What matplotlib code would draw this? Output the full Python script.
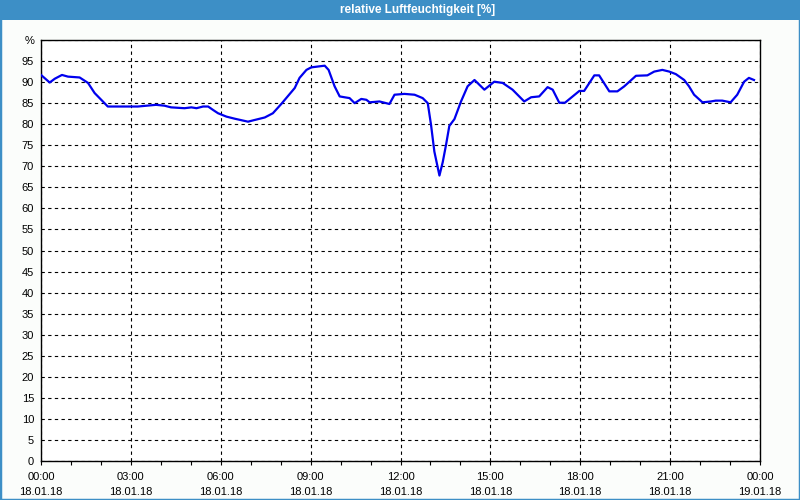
import matplotlib
matplotlib.use("Agg")
import matplotlib.pyplot as plt
from matplotlib.patches import Rectangle

title = "relative Luftfeuchtigkeit [%]"
hours = [0.0, 0.29, 0.46, 0.7, 0.9, 1.29, 1.57, 1.79, 2.01, 2.23, 3.23, 3.84, 4.12, 4.34,
         4.79, 5.02, 5.19, 5.41, 5.58, 5.74, 5.91, 6.19, 6.47, 6.91, 7.13, 7.47, 7.74,
         8.02, 8.47, 8.63, 8.86, 9.02, 9.47, 9.6, 9.8, 9.97, 10.13, 10.3, 10.47, 10.69,
         10.86, 10.97, 11.3, 11.63, 11.8, 12.13, 12.47, 12.74, 12.91, 13.02, 13.13, 13.3,
         13.41, 13.52, 13.63, 13.8, 14.02, 14.24, 14.47, 14.8, 15.13, 15.41, 15.74, 16.13,
         16.36, 16.63, 16.91, 17.08, 17.3, 17.49, 17.97, 18.13, 18.47, 18.63, 18.97, 19.24,
         19.47, 19.86, 20.24, 20.47, 20.74, 20.97, 21.19, 21.47, 21.63, 21.8, 22.08, 22.36,
         22.52, 22.74, 23.02, 23.24, 23.47, 23.63, 23.8]
humidity = [91.7, 89.9, 90.8, 91.7, 91.3, 91.1, 89.8, 87.4, 85.8, 84.2, 84.2, 84.6, 84.4, 84.0,
            83.8, 84.0, 83.8, 84.2, 84.2, 83.4, 82.6, 81.8, 81.3, 80.6, 81.0, 81.6, 82.6,
            84.8, 88.6, 91.0, 92.9, 93.5, 93.9, 92.9, 89.0, 86.6, 86.4, 86.2, 85.0, 86.0,
            85.8, 85.2, 85.4, 84.8, 87.0, 87.2, 87.0, 86.2, 85.0, 79.8, 73.5, 67.8,
            71.0, 75.1, 79.6, 81.2, 85.4, 89.0, 90.5, 88.2, 90.1, 89.8, 88.2, 85.4,
            86.4, 86.6, 88.8, 88.2, 85.1, 85.1, 87.9, 87.9, 91.6, 91.6, 87.8, 87.8,
            89.0, 91.5, 91.6, 92.5, 92.9, 92.5, 91.9, 90.5, 89.0, 87.0, 85.2, 85.4,
            85.6, 85.6, 85.2, 87.0, 90.1, 91.0, 90.5]
time_labels = ["00:00", "03:00", "06:00", "09:00", "12:00", "15:00", "18:00", "21:00", "00:00"]
date_labels = ["18.01.18"] * 8 + ["19.01.18"]
y_values = list(range(0, 101, 5))
y_labels = [str(v) for v in y_values[:-1]] + ["%"]

W, H = 800, 500
fig = plt.figure(figsize=(8, 5), dpi=100, facecolor="#fbfdfb")
plt.rcParams['font.family'] = ['Liberation Sans', 'DejaVu Sans']

# border and title bar
blue = "#3d8fc6"
fig.patches.append(Rectangle((0, 0), 1, 1, transform=fig.transFigure, fill=False,
                             edgecolor=blue, linewidth=2.5, zorder=0))
fig.patches.append(Rectangle((0, 1 - 20 / H), 1, 20 / H, transform=fig.transFigure,
                             facecolor=blue, edgecolor="none", zorder=1))
fig.text(418 / W, 1 - 10.5 / H, title, color="white", fontsize=8.5, fontweight="bold",
         ha="center", va="center")

ax = fig.add_axes([41 / W, 1 - 461 / H, (760 - 41) / W, (461 - 40) / H])
ax.set_facecolor("white")
ax.plot(hours, humidity, color="#0000ee", linewidth=1.6, zorder=3)
ax.set_xlim(0, 24)
ax.set_ylim(0, 100)
ax.set_xticks([i * 3 for i in range(9)])
ax.set_xticklabels([f"{t}\n{d}" for t, d in zip(time_labels, date_labels)],
                   fontsize=8, linespacing=1.55)
ax.set_xticks(range(0, 25), minor=True)
ax.set_yticks(y_values)
ax.set_yticklabels(y_labels, fontsize=8)
ax.tick_params(axis="x", which="both", length=3, width=0.8, direction="out", pad=5)
ax.tick_params(axis="y", length=0, pad=5)
ax.grid(True, which="major", color="black", linestyle=(0, (3, 3)), linewidth=0.8)
ax.set_axisbelow(True)
for s in ax.spines.values():
    s.set_linewidth(1.0)
    s.set_color("black")

fig.savefig("out.png", dpi=100, facecolor=fig.get_facecolor())
